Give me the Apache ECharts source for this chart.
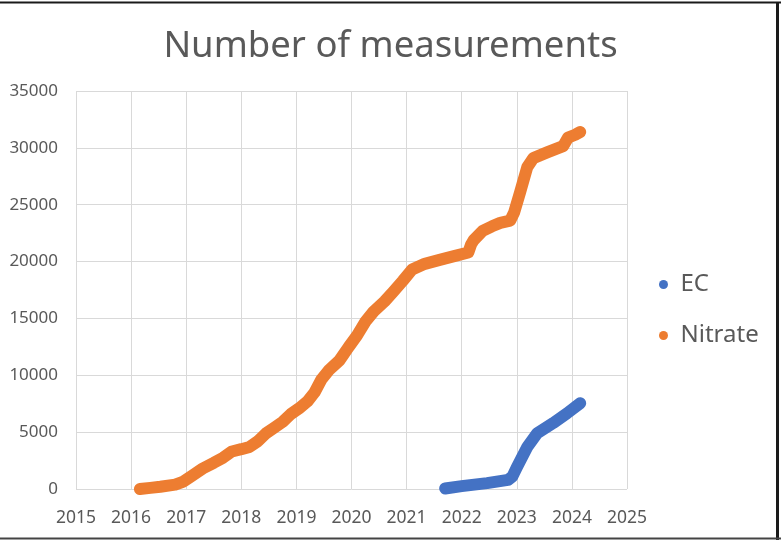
<!DOCTYPE html>
<html>
<head>
<meta charset="utf-8">
<script src="https://cdn.jsdelivr.net/npm/echarts@6/dist/echarts.min.js"></script>
<style>html,body{margin:0;padding:0;background:#fff;}#c{width:781px;height:540px;}</style>
</head>
<body>
<div id="c"></div>
<script>
const titleText = 'Number of measurements';
const seriesNames = ['EC', 'Nitrate'];
const xTicks = [2015, 2025, 1];
const yTicks = [0, 35000, 5000];

const nitrateYears = [2016.16, 2016.35, 2016.53, 2016.8, 2016.95, 2017.12, 2017.3, 2017.5, 2017.67, 2017.83, 2018.0, 2018.15, 2018.3, 2018.45, 2018.6, 2018.75, 2018.9, 2019.05, 2019.2, 2019.33, 2019.45, 2019.6, 2019.78, 2019.95, 2020.1, 2020.25, 2020.4, 2020.6, 2020.75, 2020.93, 2021.1, 2021.33, 2021.6, 2021.88, 2022.12, 2022.17, 2022.22, 2022.38, 2022.55, 2022.7, 2022.88, 2022.95, 2023.06, 2023.19, 2023.3, 2023.55, 2023.84, 2023.93, 2024.06, 2024.15];
const nitrateCounts = [0, 100, 200, 380, 650, 1200, 1800, 2300, 2750, 3300, 3500, 3700, 4200, 4900, 5400, 5900, 6600, 7100, 7700, 8500, 9600, 10500, 11300, 12500, 13500, 14700, 15600, 16500, 17300, 18300, 19300, 19800, 20150, 20500, 20800, 21500, 21900, 22700, 23100, 23400, 23600, 24300, 26100, 28300, 29100, 29600, 30150, 30900, 31150, 31400];

const ecYears = [2021.7, 2022.0, 2022.46, 2022.84, 2022.92, 2023.0, 2023.19, 2023.37, 2023.66, 2023.91, 2024.15];
const ecCounts = [50, 250, 520, 800, 1100, 1900, 3700, 4900, 5800, 6650, 7550];

const pair = (xs, ys) => xs.map((x, i) => [x, ys[i]]);
const font = '"Noto Sans", "Open Sans", sans-serif';
const labelColor = '#595959';
const plain = v => String(v);

const chart = echarts.init(document.getElementById('c'), null, {renderer: 'canvas'});
chart.setOption({
  animation: false,
  backgroundColor: '#fff',
  title: {
    text: titleText,
    left: 'center',
    top: 23,
    textStyle: {fontFamily: font, fontSize: 36.5, fontWeight: 'normal', color: labelColor}
  },
  grid: {left: 76, right: 154, top: 91, bottom: 51},
  legend: {
    orient: 'vertical',
    left: 654,
    top: 260,
    itemWidth: 24,
    itemHeight: 9,
    itemGap: 12,
    icon: 'circle',
    data: seriesNames,
    textStyle: {fontFamily: font, fontSize: 24, color: labelColor, lineHeight: 32, padding: [0, 0, 7, 0]}
  },
  xAxis: {
    type: 'value',
    min: xTicks[0], max: xTicks[1], interval: xTicks[2],
    axisLine: {show: false},
    axisTick: {show: false},
    splitLine: {show: true, lineStyle: {color: '#d9d9d9', width: 1}},
    axisLabel: {fontFamily: font, fontSize: 17.5, color: labelColor, margin: 20, formatter: plain}
  },
  yAxis: {
    type: 'value',
    min: yTicks[0], max: yTicks[1], interval: yTicks[2],
    axisLine: {show: false},
    axisTick: {show: false},
    splitLine: {show: true, lineStyle: {color: '#d9d9d9', width: 1}},
    axisLabel: {fontFamily: font, fontSize: 17, color: labelColor, margin: 18, formatter: plain}
  },
  series: [
    {
      name: seriesNames[0], type: 'line', data: pair(ecYears, ecCounts),
      showSymbol: false, color: '#4472C4',
      lineStyle: {width: 12, cap: 'round', join: 'round', color: '#4472C4'}
    },
    {
      name: seriesNames[1], type: 'line', data: pair(nitrateYears, nitrateCounts),
      showSymbol: false, color: '#ED7D31',
      lineStyle: {width: 12, cap: 'round', join: 'round', color: '#ED7D31'}
    }
  ],
  graphic: [
    {type: 'line', shape: {x1: 0, y1: 2.5, x2: 781, y2: 2.5}, style: {stroke: '#1a1a1a', lineWidth: 2}, silent: true},
    {type: 'line', shape: {x1: 777.5, y1: 2, x2: 777.5, y2: 540}, style: {stroke: '#1a1a1a', lineWidth: 3}, silent: true},
    {type: 'line', shape: {x1: 0, y1: 538.5, x2: 781, y2: 538.5}, style: {stroke: '#444', lineWidth: 2}, silent: true}
  ]
});
</script>
</body>
</html>
